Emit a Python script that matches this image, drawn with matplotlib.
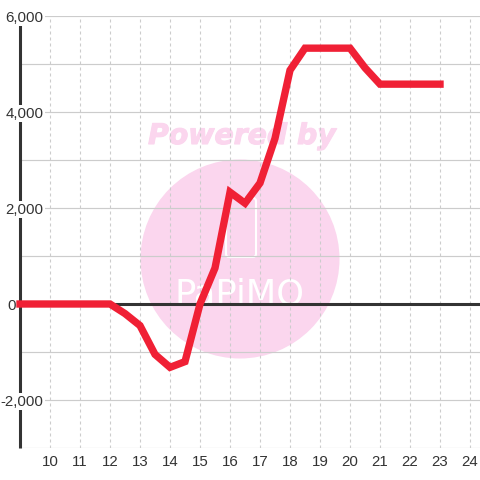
import matplotlib
matplotlib.use("Agg")
import matplotlib.pyplot as plt
import matplotlib.patheffects as pe
from matplotlib.patches import Circle, FancyBboxPatch
from matplotlib.transforms import Affine2D

hours = [9, 10, 11, 12, 12.5, 13, 13.5, 14, 14.5, 15, 15.5, 16, 16.5, 17, 17.5, 18,
         18.5, 19, 20, 20.5, 21, 22, 23]
values = [0, 0, 0, 0, -200, -450, -1050, -1320, -1200, 0, 750, 2330, 2100, 2520, 3450, 4870,
          5330, 5330, 5330, 4920, 4580, 4580, 4580]
x_ticks = list(range(10, 25))
y_major = [-2000, 0, 2000, 4000, 6000]
y_grid = [-3000, -2000, -1000, 0, 1000, 2000, 3000, 4000, 5000, 6000]

DARK = "#333333"
GRID = "#cccccc"
LINE = "#f02035"
PINK = "#fbd6ee"
FONT = "Liberation Sans"
FS = 10.8
PT = 0.72  # points per pixel

W = 480
fig = plt.figure(figsize=(4.8, 4.8), dpi=100, facecolor="white")
ax = fig.add_axes([20 / W, 1 - 448 / W, 460 / W, 432 / W])
ax.set_xlim(9, 24.333)
ax.set_ylim(-3000, 6000)
ax.patch.set_alpha(0)
for s in ax.spines.values():
    s.set_visible(False)

# watermark, in pixel coordinates with the origin at the top left
px = Affine2D().scale(1, -1).translate(0, W)
fig.add_artist(Circle((240, 259), 99.5, transform=px, fc=PINK, ec="none", zorder=-5))
fig.add_artist(FancyBboxPatch((226, 198), 30, 59, boxstyle="round,pad=0,rounding_size=3", transform=px,
                              fc="none", ec="white", lw=1.5, zorder=-4))
fig.text(242 / W, 1 - 144 / W, "Powered by", color=PINK, fontsize=20.4, fontweight="bold", style="italic",
         family="DejaVu Sans", ha="center", va="baseline", zorder=-4,
         path_effects=[pe.withStroke(linewidth=0.8, foreground=PINK)])
fig.text(240 / W, 1 - 304.5 / W, "PaPiMO", color="white", fontsize=25.4, family="DejaVu Sans",
         ha="center", va="baseline", zorder=-4)

ax.set_xticks(x_ticks)
ax.set_yticks(y_grid)
ax.set_axisbelow(True)
ax.grid(axis="x", color=GRID, lw=0.8, dashes=(2.7, 2.7))
ax.grid(axis="y", color=GRID, lw=0.85)
ax.tick_params(length=0, labelleft=False, labelbottom=False)

ax.axvline(9, color=DARK, lw=2.2, zorder=2, clip_on=False, solid_capstyle="butt")
ax.axhline(0, color=DARK, lw=2.2, zorder=2, solid_capstyle="butt")
ax.plot(hours, values, color=LINE, lw=5.3, solid_joinstyle="miter", solid_capstyle="projecting",
        zorder=3, clip_on=False)

trans = ax.get_yaxis_transform()
for v in y_major:
    right = 0.051 if v != 0 else -0.009
    ax.annotate(f"{v:,}", xy=(right, v), xycoords=trans, xytext=(0, -5.7 * PT), textcoords="offset points",
                ha="right", va="baseline", fontsize=FS, color=DARK, family=FONT, zorder=2.5,
                annotation_clip=False,
                bbox=dict(fc="white", ec="none", pad=1.0) if v != 0 else None)
xt = ax.get_xaxis_transform()
for x in x_ticks:
    ax.annotate(str(x), xy=(x, 0), xycoords=xt, xytext=(0, -18.5 * PT), textcoords="offset points",
                ha="center", va="baseline", fontsize=FS, color=DARK, family=FONT, annotation_clip=False)

fig.savefig("out.png", dpi=100)
